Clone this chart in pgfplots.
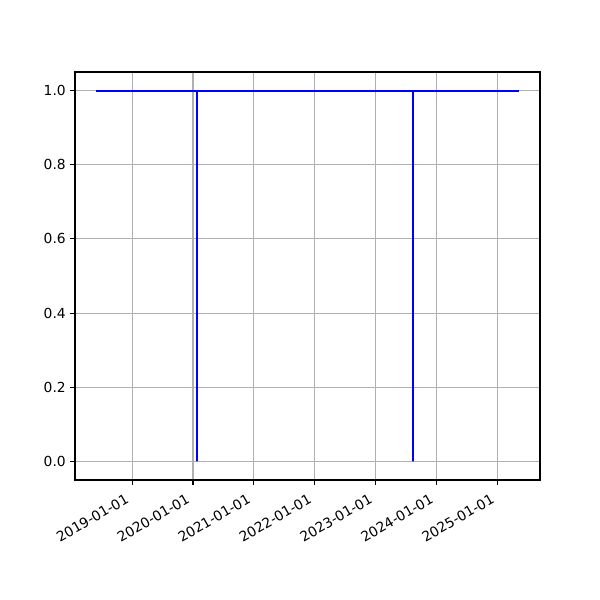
\documentclass[border=0pt]{standalone}
\usepackage{pgfplots}
\pgfplotsset{compat=1.18}
\usepackage{fontspec}
\setmainfont{DejaVu Sans}
\definecolor{gridgray}{HTML}{B0B0B0}
\begin{document}
\begin{tikzpicture}
\useasboundingbox (-0.75in,-1.2in) rectangle (5.25in,4.8in);
\begin{axis}[
  at={(0,0)}, anchor=south west,
  scale only axis, width=4.65in, height=4.08in,
  xmin=2018.063, xmax=2025.697,
  ymin=-0.05, ymax=1.05,
  xtick={2019,2020,2021,2022,2023,2024,2025},
  xticklabels={2019-01-01,2020-01-01,2021-01-01,2022-01-01,2023-01-01,2024-01-01,2025-01-01},
  ytick={0,0.2,0.4,0.6,0.8,1.0},
  yticklabel style={/pgf/number format/fixed,/pgf/number format/fixed zerofill,/pgf/number format/precision=1},
  /pgf/number format/assume math mode=true,
  tick label style={font=\fontsize{10}{12}\selectfont},
  xticklabel style={xshift=-5pt, yshift=-4.5pt, rotate=30, anchor=north east, inner sep=1pt},
  yticklabel style={inner sep=1pt, xshift=-2pt},
  tick align=outside, tick pos=left,
  major tick length=3.5pt,
  every tick/.style={black, line width=0.8pt},
  grid=major,
  major grid style={gridgray, line width=0.8pt},
  axis line style={line width=0.8pt},
  clip=false,
]
\addplot[blue, line width=1.5pt, mark=none] coordinates {
  (2018.41,1) (2020.06,1) (2020.06,0) (2020.06,1) (2023.607,1) (2023.607,0) (2023.607,1) (2025.35,1)
};
\end{axis}
\end{tikzpicture}
\end{document}
